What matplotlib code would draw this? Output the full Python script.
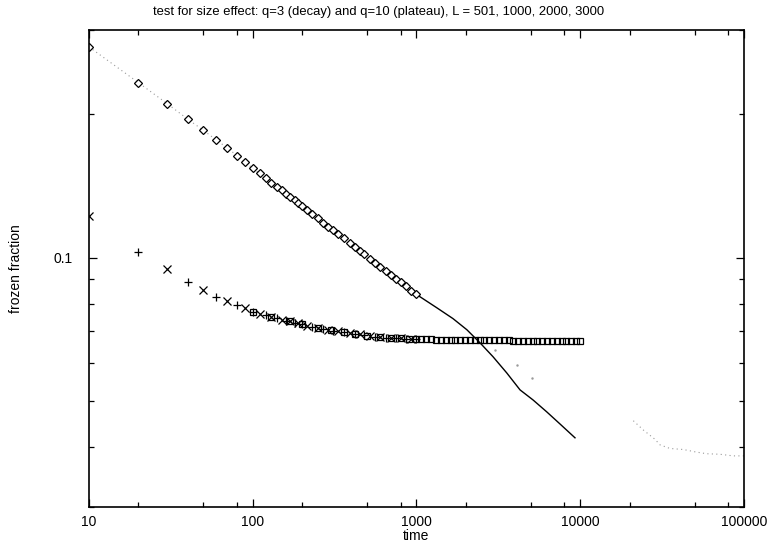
import matplotlib
matplotlib.use("Agg")
import matplotlib.pyplot as plt
from matplotlib.ticker import LogLocator, FixedLocator, NullFormatter, FixedFormatter

plt.rcParams['font.family'] = ['Liberation Sans', 'DejaVu Sans']

# ---------------- data ----------------
# q=3 (decay), diamonds
t_q3 = [10, 20, 30, 40, 50, 60, 70, 80, 90, 100, 110, 120, 130, 140, 150,
        160, 170, 180, 190, 200, 215, 230, 250, 270, 290, 310, 330, 360,
        390, 420, 450, 480, 520, 560, 600, 650, 700, 750, 800, 860, 930, 1000]
f_q3 = [0.2765, 0.2328, 0.2103, 0.1952, 0.1848, 0.1764, 0.1697, 0.1637,
        0.1585, 0.1540, 0.1501, 0.1467, 0.1437, 0.1409, 0.1383, 0.1360,
        0.1338, 0.1318, 0.1299, 0.1281, 0.1257, 0.1235, 0.1208, 0.1184,
        0.1161, 0.1141, 0.1122, 0.1097, 0.1074, 0.1053, 0.1033, 0.1016,
        0.0995, 0.0975, 0.0957, 0.0938, 0.0920, 0.0903, 0.0888, 0.0871,
        0.0853, 0.0837]

# q=3, solid line continuation
t_q3_line = [1000, 1330, 1670, 2030, 2440, 2930, 3560, 4290, 5150,
             6240, 7520, 9290]
f_q3_line = [0.0837, 0.0785, 0.0745, 0.0706, 0.0663, 0.0620, 0.0573,
             0.0528, 0.0503, 0.0475, 0.0448, 0.0419]

# q=3, faint dotted curves (largest size)
t_q3_dot_a = [3010, 4090, 5070]
f_q3_dot_a = [0.0641, 0.0596, 0.0560]
t_q3_dot_b = [21100, 24300, 28600, 30700, 35300, 42600, 51400, 59200,
              71300, 86000, 100000]
f_q3_dot_b = [0.0455, 0.0435, 0.0416, 0.0405, 0.0398, 0.0396, 0.0391,
              0.0388, 0.0387, 0.0384, 0.0384]

# q=10 (plateau), crosses
t_q10_x = [10, 30, 50, 70, 90, 110, 130, 150, 170, 190, 215, 250, 290, 330,
           390, 450, 520, 600, 700, 800, 930]
f_q10_x = [0.1225, 0.0945, 0.0855, 0.0810, 0.0784, 0.0762, 0.0752, 0.0741,
           0.0735, 0.0728, 0.0720, 0.0713, 0.0706, 0.0700, 0.0694, 0.0690,
           0.0685, 0.0682, 0.0679, 0.0677, 0.0675]

# q=10 (plateau), plus signs
t_q10_p = [20, 40, 60, 80, 100, 120, 140, 160, 180, 200, 230, 270, 310, 360,
           420, 480, 560, 650, 750, 860, 1000]
f_q10_p = [0.1028, 0.0889, 0.0828, 0.0794, 0.0768, 0.0757, 0.0746, 0.0738,
           0.0731, 0.0725, 0.0717, 0.0709, 0.0703, 0.0697, 0.0692, 0.0688,
           0.0683, 0.0680, 0.0678, 0.0676, 0.0675]

# q=10 (plateau), squares
t_q10_s = [100, 130, 170, 200, 250, 300, 360, 420, 500, 600, 700, 800, 900,
           1000, 1070, 1150, 1230, 1320, 1410, 1510, 1620, 1730, 1850, 1980,
           2120, 2270, 2430, 2600, 2780, 2980, 3190, 3410, 3650, 3910, 4180,
           4470, 4790, 5120, 5480, 5870, 6280, 6720, 7190, 7690, 8230, 8810,
           9430, 10000]
f_q10_s = [0.0768, 0.0752, 0.0735, 0.0725, 0.0713, 0.0704, 0.0697, 0.0692,
           0.0686, 0.0682, 0.0679, 0.0677, 0.0676, 0.0675, 0.0674, 0.0674,
           0.0674, 0.0673, 0.0673, 0.0673, 0.0673, 0.0672, 0.0672, 0.0672,
           0.0672, 0.0672, 0.0671, 0.0671, 0.0671, 0.0671, 0.0671, 0.0671,
           0.0671, 0.0670, 0.0670, 0.0670, 0.0670, 0.0670, 0.0670, 0.0670,
           0.0670, 0.0670, 0.0670, 0.0670, 0.0670, 0.0670, 0.0670, 0.0670]

title = "test for size effect: q=3 (decay) and q=10 (plateau), L = 501, 1000, 2000, 3000"
x_ticks = [10, 100, 1000, 10000, 100000]
x_tick_labels = ["10", "100", "1000", "10000", "100000"]
y_ticks = [0.1]
y_tick_labels = ["0.1"]

# ---------------- figure ----------------
fig = plt.figure(figsize=(7.7, 5.46), dpi=100)
ax = fig.add_axes([0.1156, 0.0714, 0.8506, 0.8736])
ax.set_xscale('log')
ax.set_yscale('log')
ax.set_xlim(10, 100000)
ax.set_ylim(0.03, 0.3)

grey = '#9a9a9a'
ax.plot(t_q3, f_q3, linestyle=(0, (1, 3)), color=grey, linewidth=0.8)
ax.plot(t_q3_dot_a, f_q3_dot_a, linestyle='none', marker='.', markersize=1.5,
        color=grey)
ax.plot(t_q3_dot_b, f_q3_dot_b, linestyle=(0, (1, 3)), color=grey, linewidth=0.8)
ax.plot(t_q3_line, f_q3_line, color='black', linewidth=1.0)
ax.plot(t_q3, f_q3, linestyle='none', marker='D', markersize=3.6,
        markerfacecolor='white', markeredgecolor='black', markeredgewidth=0.9)
ax.plot(t_q10_s, f_q10_s, linestyle='none', marker='s', markersize=4.0,
        markerfacecolor='none', markeredgecolor='black', markeredgewidth=0.9)
ax.plot(t_q10_x, f_q10_x, linestyle='none', marker='x', markersize=5.5,
        color='black', markeredgewidth=0.9)
ax.plot(t_q10_p, f_q10_p, linestyle='none', marker='+', markersize=6,
        color='black', markeredgewidth=0.9)

ax.xaxis.set_major_locator(FixedLocator(x_ticks))
ax.xaxis.set_major_formatter(FixedFormatter(x_tick_labels))
ax.xaxis.set_minor_locator(LogLocator(base=10, subs=(2.0, 5.0, 8.0)))
ax.xaxis.set_minor_formatter(NullFormatter())
ax.yaxis.set_major_locator(FixedLocator(y_ticks))
ax.yaxis.set_major_formatter(FixedFormatter(y_tick_labels))
ax.yaxis.set_minor_locator(LogLocator(base=10, subs=tuple(range(2, 10))))
ax.yaxis.set_minor_formatter(NullFormatter())

ax.tick_params(which='both', direction='in', top=True, right=True,
               labelsize=10, width=0.9)
ax.tick_params(which='major', length=6)
ax.tick_params(which='minor', length=3.5)
ax.tick_params(axis='x', pad=6)
ax.tick_params(axis='y', pad=12)
for s in ax.spines.values():
    s.set_linewidth(1.2)

ax.set_xlabel("time", fontsize=10, labelpad=0)
ax.set_ylabel("frozen fraction", fontsize=10, labelpad=22)
fig.text(0.492, 0.978, title, ha='center', va='center', fontsize=9.4)

fig.savefig("out.png", dpi=100)
